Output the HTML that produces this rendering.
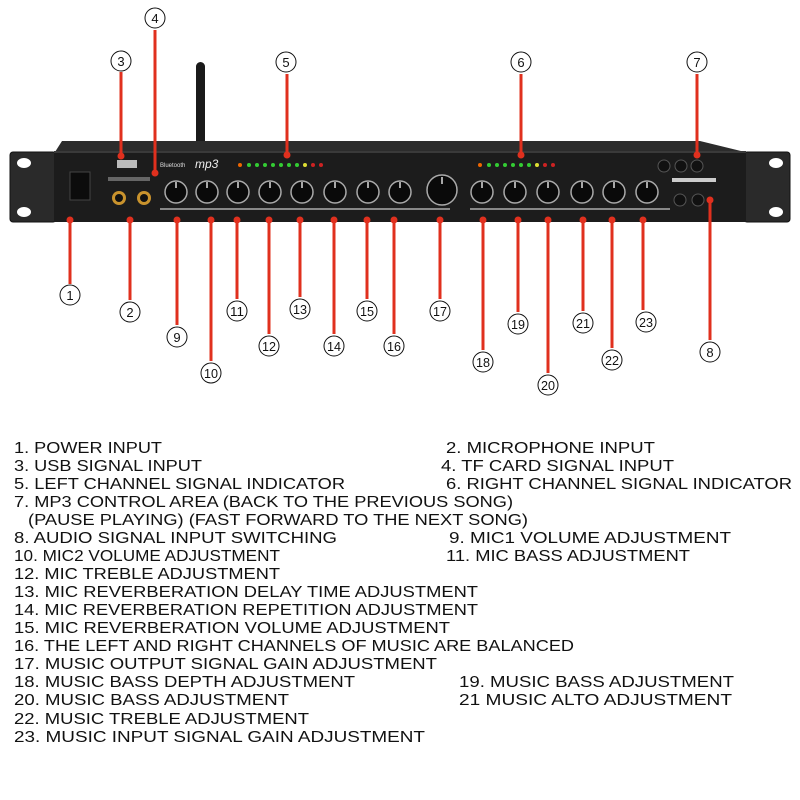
<!DOCTYPE html>
<html><head><meta charset="utf-8"><style>
html,body{margin:0;padding:0;background:#fff;width:800px;height:800px;overflow:hidden}
svg{display:block}
</style></head><body>
<svg width="800" height="800" viewBox="0 0 800 800" xmlns="http://www.w3.org/2000/svg" font-family="Liberation Sans, sans-serif">
<rect x="196" y="62" width="9" height="84" rx="4.5" fill="#1a1a1a"/>
<polygon points="55,152 62,141 700,141 745,152" fill="#2c2c2c"/>
<rect x="10" y="152" width="46" height="70" rx="3" fill="#2a2a2a" stroke="#111"/>
<rect x="744" y="152" width="46" height="70" rx="3" fill="#2a2a2a" stroke="#111"/>
<ellipse cx="24" cy="163" rx="7" ry="5" fill="#fff"/><ellipse cx="24" cy="212" rx="7" ry="5" fill="#fff"/>
<ellipse cx="776" cy="163" rx="7" ry="5" fill="#fff"/><ellipse cx="776" cy="212" rx="7" ry="5" fill="#fff"/>
<rect x="54" y="151" width="692" height="71" fill="#1c1c1c"/>
<rect x="54" y="151" width="692" height="2" fill="#3a3a3a"/>
<rect x="70" y="172" width="20" height="28" fill="#0c0c0c" stroke="#444"/>
<rect x="117" y="160" width="20" height="8" fill="#bbb"/>
<rect x="108" y="177" width="42" height="4" fill="#666"/>
<circle cx="119" cy="198" r="7" fill="#c9932d"/><circle cx="119" cy="198" r="4" fill="#111"/>
<circle cx="144" cy="198" r="7" fill="#c9932d"/><circle cx="144" cy="198" r="4" fill="#111"/>
<text x="160" y="167" font-size="6" fill="#ddd">Bluetooth</text>
<text x="195" y="168" font-size="12" font-style="italic" fill="#eee">mp3</text>
<!-- panel strip text lines -->
<rect x="160" y="208" width="290" height="2" fill="#888"/>
<rect x="470" y="208" width="200" height="2" fill="#888"/>
<g fill="#3c3">
<circle cx="249" cy="165" r="2"/><circle cx="257" cy="165" r="2"/><circle cx="265" cy="165" r="2"/><circle cx="273" cy="165" r="2"/><circle cx="281" cy="165" r="2"/><circle cx="289" cy="165" r="2"/><circle cx="297" cy="165" r="2"/>
<circle cx="489" cy="165" r="2"/><circle cx="497" cy="165" r="2"/><circle cx="505" cy="165" r="2"/><circle cx="513" cy="165" r="2"/><circle cx="521" cy="165" r="2"/><circle cx="529" cy="165" r="2"/>
</g>
<circle cx="240" cy="165" r="2" fill="#e60"/><circle cx="305" cy="165" r="2" fill="#dd3"/><circle cx="313" cy="165" r="2" fill="#c22"/><circle cx="321" cy="165" r="2" fill="#c22"/>
<circle cx="480" cy="165" r="2" fill="#e60"/><circle cx="537" cy="165" r="2" fill="#dd3"/><circle cx="545" cy="165" r="2" fill="#c22"/><circle cx="553" cy="165" r="2" fill="#c22"/>
<g fill="#0a0a0a" stroke="#aaa" stroke-width="1.5">
<circle cx="176" cy="192" r="11"/><circle cx="207" cy="192" r="11"/><circle cx="238" cy="192" r="11"/><circle cx="270" cy="192" r="11"/><circle cx="302" cy="192" r="11"/><circle cx="335" cy="192" r="11"/><circle cx="368" cy="192" r="11"/><circle cx="400" cy="192" r="11"/>
<circle cx="442" cy="190" r="15"/>
<circle cx="482" cy="192" r="11"/><circle cx="515" cy="192" r="11"/><circle cx="548" cy="192" r="11"/><circle cx="582" cy="192" r="11"/><circle cx="614" cy="192" r="11"/><circle cx="647" cy="192" r="11"/>
</g>
<g stroke="#ddd" stroke-width="1.5">
<path d="M176 182v6M207 182v6M238 182v6M270 182v6M302 182v6M335 182v6M368 182v6M400 182v6M442 177v7M482 182v6M515 182v6M548 182v6M582 182v6M614 182v6M647 182v6"/>
</g>
<g fill="#111" stroke="#555"><circle cx="664" cy="166" r="6"/><circle cx="681" cy="166" r="6"/><circle cx="697" cy="166" r="6"/><circle cx="680" cy="200" r="6"/><circle cx="698" cy="200" r="6"/></g>
<rect x="672" y="178" width="44" height="4" fill="#ccc"/>
<g stroke="#e0301e" stroke-width="3" fill="none">
<path d="M70 221V284"/><path d="M130 221V300"/>
<path d="M121 72V156"/><path d="M155 30V173"/><path d="M287 74V156"/><path d="M521 74V156"/><path d="M697 74V156"/>
<path d="M710 200V340"/>
<path d="M177 221V325"/><path d="M211 221V361"/><path d="M237 221V299"/><path d="M269 221V334"/><path d="M300 221V297"/><path d="M334 221V334"/><path d="M367 221V299"/><path d="M394 221V334"/><path d="M440 221V299"/><path d="M483 221V350"/><path d="M518 221V312"/><path d="M548 221V373"/><path d="M583 221V311"/><path d="M612 221V348"/><path d="M643 221V310"/>
</g>
<g fill="#e0301e">
<circle cx="70" cy="220" r="3.5"/><circle cx="130" cy="220" r="3.5"/><circle cx="121" cy="156" r="3.5"/><circle cx="155" cy="173" r="3.5"/><circle cx="287" cy="155" r="3.5"/><circle cx="521" cy="155" r="3.5"/><circle cx="697" cy="155" r="3.5"/><circle cx="710" cy="200" r="3.5"/>
<circle cx="177" cy="220" r="3.5"/><circle cx="211" cy="220" r="3.5"/><circle cx="237" cy="220" r="3.5"/><circle cx="269" cy="220" r="3.5"/><circle cx="300" cy="220" r="3.5"/><circle cx="334" cy="220" r="3.5"/><circle cx="367" cy="220" r="3.5"/><circle cx="394" cy="220" r="3.5"/><circle cx="440" cy="220" r="3.5"/><circle cx="483" cy="220" r="3.5"/><circle cx="518" cy="220" r="3.5"/><circle cx="548" cy="220" r="3.5"/><circle cx="583" cy="220" r="3.5"/><circle cx="612" cy="220" r="3.5"/><circle cx="643" cy="220" r="3.5"/>
</g>
<g fill="#fff" stroke="#111" stroke-width="1">
<circle cx="70" cy="295" r="10"/><circle cx="130" cy="312" r="10"/><circle cx="121" cy="61" r="10"/><circle cx="155" cy="18" r="10"/><circle cx="286" cy="62" r="10"/><circle cx="521" cy="62" r="10"/><circle cx="697" cy="62" r="10"/><circle cx="710" cy="352" r="10"/>
<circle cx="177" cy="337" r="10"/><circle cx="211" cy="373" r="10"/><circle cx="237" cy="311" r="10"/><circle cx="269" cy="346" r="10"/><circle cx="300" cy="309" r="10"/><circle cx="334" cy="346" r="10"/><circle cx="367" cy="311" r="10"/><circle cx="394" cy="346" r="10"/><circle cx="440" cy="311" r="10"/><circle cx="483" cy="362" r="10"/><circle cx="518" cy="324" r="10"/><circle cx="548" cy="385" r="10"/><circle cx="583" cy="323" r="10"/><circle cx="612" cy="360" r="10"/><circle cx="646" cy="322" r="10"/>
</g>
<g font-size="13" fill="#111" text-anchor="middle">
<text x="70" y="300">1</text><text x="130" y="317">2</text><text x="121" y="66">3</text><text x="155" y="23">4</text><text x="286" y="67">5</text><text x="521" y="67">6</text><text x="697" y="67">7</text><text x="710" y="357">8</text>
<text x="177" y="342">9</text><text x="211" y="378" textLength="14" lengthAdjust="spacingAndGlyphs">10</text><text x="237" y="316" textLength="14" lengthAdjust="spacingAndGlyphs">11</text><text x="269" y="351" textLength="14" lengthAdjust="spacingAndGlyphs">12</text><text x="300" y="314" textLength="14" lengthAdjust="spacingAndGlyphs">13</text><text x="334" y="351" textLength="14" lengthAdjust="spacingAndGlyphs">14</text><text x="367" y="316" textLength="14" lengthAdjust="spacingAndGlyphs">15</text><text x="394" y="351" textLength="14" lengthAdjust="spacingAndGlyphs">16</text><text x="440" y="316" textLength="14" lengthAdjust="spacingAndGlyphs">17</text><text x="483" y="367" textLength="14" lengthAdjust="spacingAndGlyphs">18</text><text x="518" y="329" textLength="14" lengthAdjust="spacingAndGlyphs">19</text><text x="548" y="390" textLength="14" lengthAdjust="spacingAndGlyphs">20</text><text x="583" y="328" textLength="14" lengthAdjust="spacingAndGlyphs">21</text><text x="612" y="365" textLength="14" lengthAdjust="spacingAndGlyphs">22</text><text x="646" y="327" textLength="14" lengthAdjust="spacingAndGlyphs">23</text>
</g>
<g font-size="16" fill="#111">
<text x="14" y="453" textLength="148" lengthAdjust="spacingAndGlyphs">1. POWER INPUT</text>
<text x="446" y="453" textLength="209" lengthAdjust="spacingAndGlyphs">2. MICROPHONE INPUT</text>
<text x="14" y="471" textLength="188" lengthAdjust="spacingAndGlyphs">3. USB SIGNAL INPUT</text>
<text x="441" y="471" textLength="233" lengthAdjust="spacingAndGlyphs">4. TF CARD SIGNAL INPUT</text>
<text x="14" y="489" textLength="331" lengthAdjust="spacingAndGlyphs">5. LEFT CHANNEL SIGNAL INDICATOR</text>
<text x="446" y="489" textLength="346" lengthAdjust="spacingAndGlyphs">6. RIGHT CHANNEL SIGNAL INDICATOR</text>
<text x="14" y="507" textLength="499" lengthAdjust="spacingAndGlyphs">7. MP3 CONTROL AREA (BACK TO THE PREVIOUS SONG)</text>
<text x="28" y="525" textLength="500" lengthAdjust="spacingAndGlyphs">(PAUSE PLAYING) (FAST FORWARD TO THE NEXT SONG)</text>
<text x="14" y="543" textLength="323" lengthAdjust="spacingAndGlyphs">8. AUDIO SIGNAL INPUT SWITCHING</text>
<text x="449" y="543" textLength="282" lengthAdjust="spacingAndGlyphs">9. MIC1 VOLUME ADJUSTMENT</text>
<text x="14" y="561" textLength="266" lengthAdjust="spacingAndGlyphs">10. MIC2 VOLUME ADJUSTMENT</text>
<text x="446" y="561" textLength="244" lengthAdjust="spacingAndGlyphs">11. MIC BASS ADJUSTMENT</text>
<text x="14" y="579" textLength="266" lengthAdjust="spacingAndGlyphs">12. MIC TREBLE ADJUSTMENT</text>
<text x="14" y="597" textLength="464" lengthAdjust="spacingAndGlyphs">13. MIC REVERBERATION DELAY TIME ADJUSTMENT</text>
<text x="14" y="615" textLength="464" lengthAdjust="spacingAndGlyphs">14. MIC REVERBERATION REPETITION ADJUSTMENT</text>
<text x="14" y="633" textLength="436" lengthAdjust="spacingAndGlyphs">15. MIC REVERBERATION VOLUME ADJUSTMENT</text>
<text x="14" y="651" textLength="560" lengthAdjust="spacingAndGlyphs">16. THE LEFT AND RIGHT CHANNELS OF MUSIC ARE BALANCED</text>
<text x="14" y="669" textLength="423" lengthAdjust="spacingAndGlyphs">17. MUSIC OUTPUT SIGNAL GAIN ADJUSTMENT</text>
<text x="14" y="687" textLength="341" lengthAdjust="spacingAndGlyphs">18. MUSIC BASS DEPTH ADJUSTMENT</text>
<text x="459" y="687" textLength="275" lengthAdjust="spacingAndGlyphs">19. MUSIC BASS ADJUSTMENT</text>
<text x="14" y="705" textLength="275" lengthAdjust="spacingAndGlyphs">20. MUSIC BASS ADJUSTMENT</text>
<text x="459" y="705" textLength="273" lengthAdjust="spacingAndGlyphs">21 MUSIC ALTO ADJUSTMENT</text>
<text x="14" y="724" textLength="295" lengthAdjust="spacingAndGlyphs">22. MUSIC TREBLE ADJUSTMENT</text>
<text x="14" y="742" textLength="411" lengthAdjust="spacingAndGlyphs">23. MUSIC INPUT SIGNAL GAIN ADJUSTMENT</text>
</g>
</svg>
</body></html>
